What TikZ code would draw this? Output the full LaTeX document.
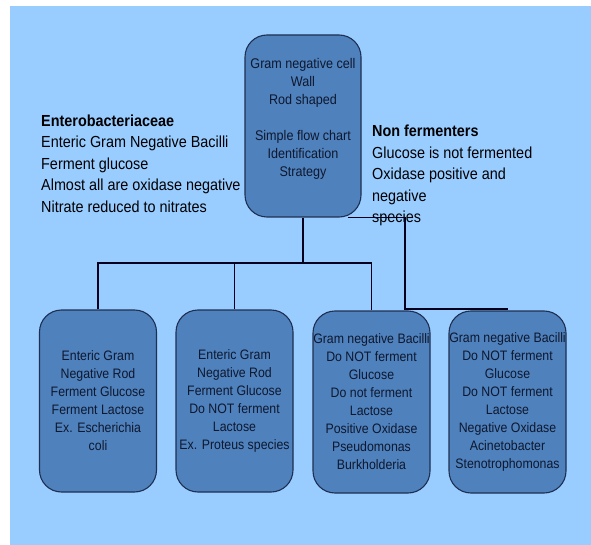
\documentclass[tikz,border=0pt]{standalone}
\usepackage{fontspec}
\setmainfont{Liberation Sans}[FakeStretch=0.9]
\usetikzlibrary{positioning, calc}

\definecolor{skyback}{RGB}{153,204,255}
\definecolor{boxfill}{RGB}{79,129,189}
\definecolor{boxline}{RGB}{30,48,82}
\definecolor{boxtext}{RGB}{14,24,46}

\begin{document}
\begin{tikzpicture}[
    x=1pt, y=-1pt,
    gbox/.style={draw=boxline, fill=boxfill, line width=1.1pt, rounded corners=22pt, minimum width=117pt, minimum height=182pt, align=center, text=boxtext, inner sep=0pt, font=\fontsize{13.7}{18}\selectfont},
    note/.style={anchor=north west, align=left, inner sep=0pt, font=\fontsize{16}{21.5}\selectfont},
    link/.style={line width=1.9pt, draw=black!88!blue}
]

\useasboundingbox (0,0) rectangle (591,545);
\fill[skyback] (10,6) rectangle (591,545);

% Top of the chart
\node (top) [gbox, minimum width=116pt, font=\fontsize{14}{18}\selectfont] at (303,126) {Gram negative cell\\Wall\\Rod shaped\\[18pt]Simple flow chart\\Identification\\Strategy\\ ~};

% Side notes
\node (entero) [note] at (41,114.5) {\textbf{Enterobacteriaceae}\\Enteric Gram Negative Bacilli\\Ferment glucose\\Almost all are oxidase negative\\Nitrate reduced to nitrates};
\node (nonferm) [note] at (372,125) {\textbf{Non fermenters}\\Glucose is not fermented\\Oxidase positive and\\negative\\species};

% Bottom boxes
\node (b1) [gbox] at (98,401) {Enteric Gram\\Negative Rod\\Ferment Glucose\\Ferment Lactose\\Ex. Escherichia\\coli};
\node (b2) [gbox] at (234.5,401) {Enteric Gram\\Negative Rod\\Ferment Glucose\\Do NOT ferment\\Lactose\\Ex. Proteus species};
\node (b3) [gbox] at (371.5,402) {Gram negative Bacilli\\Do NOT ferment\\Glucose\\Do not ferment\\Lactose\\Positive Oxidase\\Pseudomonas\\Burkholderia};
\node (b4) [gbox] at (507.5,402) {Gram negative Bacilli\\Do NOT ferment\\Glucose\\Do NOT ferment\\Lactose\\Negative Oxidase\\Acinetobacter\\Stenotrophomonas};

% Connectors
\coordinate (split) at (303,263);
\coordinate (jr) at (405,309);
\draw[link] (top.south) -- (split);
\draw[link] (b1.north) |- (split) -| (b3.north);
\draw[link] (b2.north) -- (b2.north |- split);
\draw[link] (top.-64) -| (jr) -| (b4.north);

\end{tikzpicture}
\end{document}
